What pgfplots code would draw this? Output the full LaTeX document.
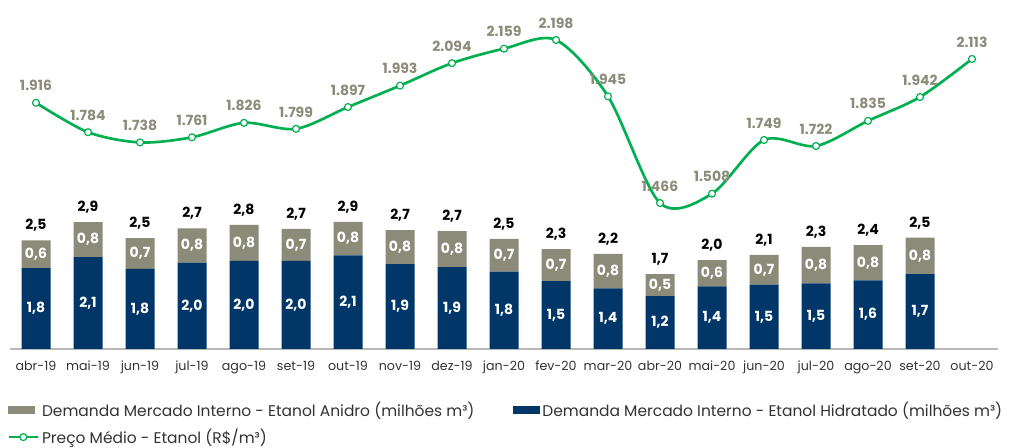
\documentclass[border=0pt]{standalone}
\usepackage{fontspec}
\setmainfont{Poppins}
\usepackage{pgfplots}
\pgfplotsset{compat=1.18}
\usepackage{pgfplotstable}

\definecolor{hid}{RGB}{0,54,104}
\definecolor{anid}{RGB}{140,138,120}
\definecolor{verde}{RGB}{0,176,80}
\definecolor{lbl}{RGB}{140,140,122}
\definecolor{txt}{RGB}{50,50,50}

\pgfplotstableread{
x hid anid tot
0 1.84 0.63 2.47
1 2.09 0.79 2.88
2 1.82 0.70 2.52
3 1.96 0.78 2.74
4 2.00 0.82 2.82
5 2.00 0.73 2.73
6 2.13 0.76 2.89
7 1.93 0.77 2.70
8 1.86 0.82 2.68
9 1.76 0.74 2.50
10 1.54 0.73 2.27
11 1.38 0.78 2.16
12 1.20 0.50 1.70
13 1.42 0.60 2.02
14 1.46 0.68 2.14
15 1.49 0.83 2.32
16 1.56 0.80 2.36
17 1.70 0.83 2.53
}\bars

\pgfplotstableread{
x preco
0 1916
1 1784
2 1738
3 1761
4 1826
5 1799
6 1897
7 1993
8 2094
9 2159
10 2198
11 1945
12 1466
13 1508
14 1749
15 1722
16 1835
17 1942
18 2113
}\preco

\pgfplotsset{
  base/.style={
    at={(7.5pt,74.25pt)}, anchor=south west,
    scale only axis, width=741pt, height=261.75pt,
    xmin=-0.5, xmax=18.5,
  },
}

\begin{document}
\begin{tikzpicture}
\useasboundingbox (0,0) rectangle (756.75pt,336pt);

% bars
\begin{axis}[base,
  ymin=0, ymax=7.93,
  ybar stacked, bar width=21.75pt,
  axis x line*=bottom, axis y line=none,
  x axis line style={draw=black!28, line width=1.1pt, -},
  xtick={0,...,18},
  xticklabels={abr-19,mai-19,jun-19,jul-19,ago-19,set-19,out-19,nov-19,dez-19,jan-20,fev-20,mar-20,abr-20,mai-20,jun-20,jul-20,ago-20,set-20,out-20},
  major tick length=0pt,
  xticklabel style={font=\fontsize{9.5}{11}\selectfont, text=txt, yshift=-5.5pt},
]
\addplot[fill=hid, draw=none] table[x=x, y=hid]{\bars};
\addplot[fill=anid, draw=none] table[x=x, y=anid]{\bars};
\end{axis}

% bar labels
\begin{axis}[base, hide axis,
  ymin=0, ymax=7.93,
  /pgf/number format/.cd, fixed, fixed zerofill, precision=1, use comma, assume math mode=true,
]
\addplot[draw=none, mark=none, nodes near coords, point meta=explicit,
  nodes near coords style={text=white, font=\bfseries\fontsize{10.5}{12}\selectfont, anchor=center}]
  table[x=x, y expr=\thisrow{hid}/2, meta=hid]{\bars};
\addplot[draw=none, mark=none, nodes near coords, point meta=explicit,
  nodes near coords style={text=white, font=\bfseries\fontsize{10.5}{12}\selectfont, anchor=center}]
  table[x=x, y expr=\thisrow{hid}+\thisrow{anid}/2, meta=anid]{\bars};
\addplot[draw=none, mark=none, nodes near coords, point meta=explicit,
  nodes near coords style={text=black, font=\bfseries\fontsize{10.5}{12}\selectfont, anchor=south, yshift=3pt}]
  table[x=x, y=tot, meta=tot]{\bars};
\end{axis}

% price line + legend
\begin{axis}[base, hide axis,
  ymin=810.5, ymax=2377.6,
  /pgf/number format/.cd, fixed, precision=0, 1000 sep={.}, assume math mode=true,
  /pgfplots/legend columns=2,
  /pgfplots/legend cell align=left,
  /pgfplots/legend style={at={(-0.007,-0.135)}, anchor=north west, draw=none, fill=none,
    font=\fontsize{11.6}{12}\selectfont, text=txt,
    /tikz/every even column/.append style={column sep=27pt},
    row sep=4pt},
]
\addlegendimage{legend image code/.code={\fill[anid] (0pt,-2.6pt) rectangle (19.5pt,2.6pt);}}
\addlegendentry{Demanda Mercado Interno - Etanol Anidro (milhões m³)}
\addlegendimage{legend image code/.code={\fill[hid] (0pt,-2.6pt) rectangle (19.5pt,2.6pt);}}
\addlegendentry{Demanda Mercado Interno - Etanol Hidratado (milhões m³)}
\addplot[verde, line width=2pt, smooth, tension=0.5,
  mark=*, mark size=2.6pt, mark options={fill=white, draw=verde, line width=0.9pt},
  nodes near coords,
  nodes near coords style={text=lbl, font=\bfseries\fontsize{10.5}{12}\selectfont, anchor=south, yshift=5pt},
  legend image code/.code={\draw[verde, line width=2pt] (0pt,0pt) -- (22pt,0pt);
     \draw[verde, fill=white, line width=0.9pt] (11pt,0pt) circle (2.6pt);}]
  table[x=x, y=preco]{\preco};
\addlegendentry{Preço Médio - Etanol (R\$/m³)}
\end{axis}
\end{tikzpicture}
\end{document}
